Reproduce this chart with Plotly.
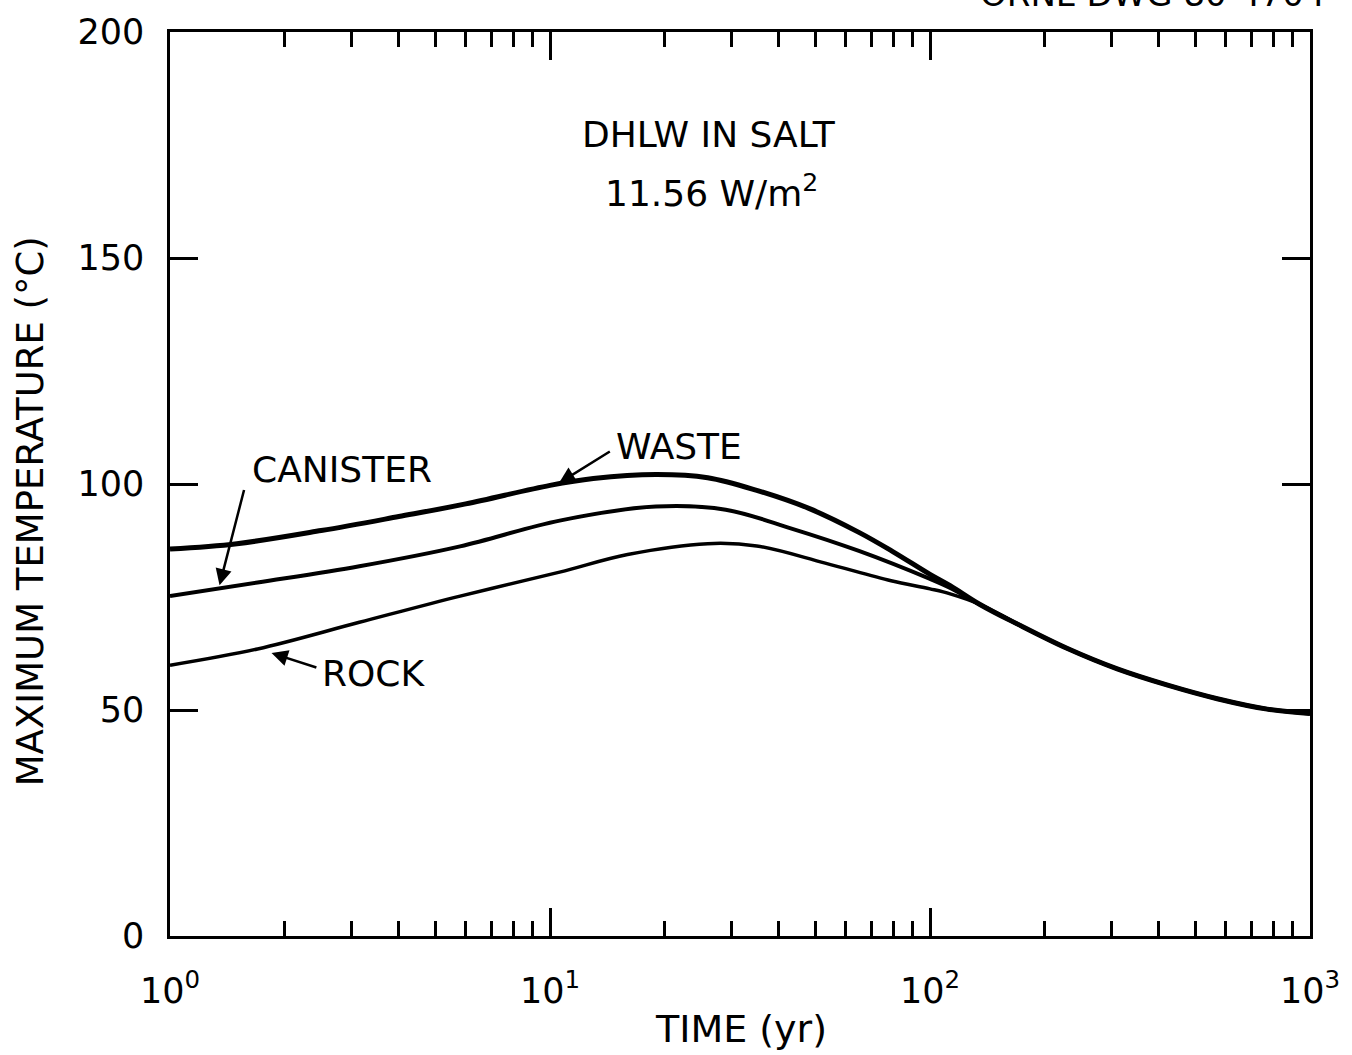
import math
import plotly.graph_objects as go

# ---- data ----
time_waste = [1, 1.5, 2.5, 4, 6, 10, 13, 19, 26, 35, 48, 65, 80, 100, 113, 135, 170, 230, 311, 422, 570, 771, 1000]
temp_waste = [85.6, 86.8, 89.7, 92.8, 95.6, 99.7, 101.2, 102.1, 101.4, 98.6, 94.6, 89.3, 85.0, 80.0, 77.5, 73.4, 69.0, 63.6, 59.1, 55.5, 52.5, 50.2, 49.2]

time_canister = [1, 1.7, 3.15, 5.8, 10.6, 19, 29, 43, 65, 100, 113, 135, 170, 230, 311, 422, 570, 771, 1000]
temp_canister = [75.2, 78.2, 81.8, 86.2, 91.9, 95.0, 94.3, 90.2, 85.2, 79.0, 77.0, 73.4, 69.0, 63.6, 59.1, 55.5, 52.5, 50.2, 49.2]

time_rock = [1, 1.7, 3.15, 5.8, 10.6, 16, 26, 35, 53, 79, 100, 113, 135, 170, 230, 311, 422, 570, 771, 1000]
temp_rock = [59.9, 63.5, 69.4, 75.2, 80.5, 84.4, 86.8, 86.3, 82.5, 78.6, 76.8, 75.7, 73.4, 69.0, 63.6, 59.1, 55.5, 52.5, 50.2, 49.2]

x_tick_vals = [1, 10, 100, 1000]
x_tick_text = ["10<sup>0</sup>", "10<sup>1</sup>", "10<sup>2</sup>", "10<sup>3</sup>"]
y_tick_vals = [0, 50, 100, 150, 200]

FONT = "DejaVu Sans"

fig = go.Figure()
for t, v, w in [(time_rock, temp_rock, 3.5), (time_canister, temp_canister, 4), (time_waste, temp_waste, 5)]:
    fig.add_trace(go.Scatter(x=t, y=v, mode="lines",
                             line=dict(color="black", width=w, shape="spline", smoothing=1.0),
                             showlegend=False, hoverinfo="skip"))

axis_common = dict(showline=True, linecolor="black", linewidth=2.5, mirror="allticks",
                   ticks="inside", tickcolor="black", tickwidth=2.5, ticklen=28,
                   showgrid=False, zeroline=False,
                   tickfont=dict(family=FONT, size=35, color="black"))

fig.update_xaxes(type="log", range=[0, 3], tickvals=x_tick_vals, ticktext=x_tick_text,
                 minor=dict(ticks="inside", ticklen=15, tickwidth=2.5, tickcolor="black",
                            dtick="D1", showgrid=False),
                 ticklabelstandoff=22, **axis_common)
fig.update_yaxes(range=[0, 200], tickvals=y_tick_vals, ticklabelstandoff=16, **axis_common)

big = dict(family=FONT, size=36, color="black")

# axis titles as annotations for exact placement
fig.add_annotation(x=-0.1226, y=0.470, xref="paper", yref="paper", text="MAXIMUM TEMPERATURE (°C)",
                   textangle=-90, showarrow=False, xanchor="center", yanchor="middle",
                   font=dict(family=FONT, size=37, color="black"))
fig.add_annotation(x=0.501, y=-0.103, xref="paper", yref="paper", text="TIME (yr)",
                   showarrow=False, xanchor="center", yanchor="middle",
                   font=dict(family=FONT, size=38, color="black"))

fig.add_annotation(x=0.473, y=0.887, xref="paper", yref="paper", text="DHLW IN SALT",
                   showarrow=False, xanchor="center", yanchor="middle", font=big)
fig.add_annotation(x=0.475, y=0.824, xref="paper", yref="paper", text="11.56 W/m<sup>2</sup>",
                   showarrow=False, xanchor="center", yanchor="middle", font=big)

# curve labels
fig.add_annotation(x=math.log10(14.7), y=108.2, xref="x", yref="y", text="WASTE", showarrow=False,
                   xanchor="left", yanchor="middle", font=big)
fig.add_annotation(x=math.log10(1.62), y=103.2, xref="x", yref="y", text="CANISTER", showarrow=False,
                   xanchor="left", yanchor="middle", font=big)
fig.add_annotation(x=math.log10(2.48), y=58.0, xref="x", yref="y", text="ROCK", showarrow=False,
                   xanchor="left", yanchor="middle", font=big)

fig.add_annotation(x=0.862, y=1, xref="paper", yref="paper", text="ORNL-DWG 80-4704",
                   showarrow=False, xanchor="center", yanchor="bottom", yshift=16,
                   font=dict(family=FONT, size=34, color="black"))


def arrow(xv, yv, xt, yt):
    fig.add_annotation(x=math.log10(xv), y=yv, xref="x", yref="y",
                       ax=math.log10(xt), ay=yt, axref="x", ayref="y",
                       text="", showarrow=True, arrowhead=2, arrowsize=1.3,
                       arrowwidth=2.5, arrowcolor="black")


arrow(10.56, 100.2, 14.5, 107.4)
arrow(1.35, 77.6, 1.57, 99.0)
arrow(1.85, 62.6, 2.45, 59.3)

fig.update_layout(width=1352, height=1055, margin=dict(l=170, r=40, t=25, b=119),
                  plot_bgcolor="white", paper_bgcolor="white")

fig.write_html("out.html")
